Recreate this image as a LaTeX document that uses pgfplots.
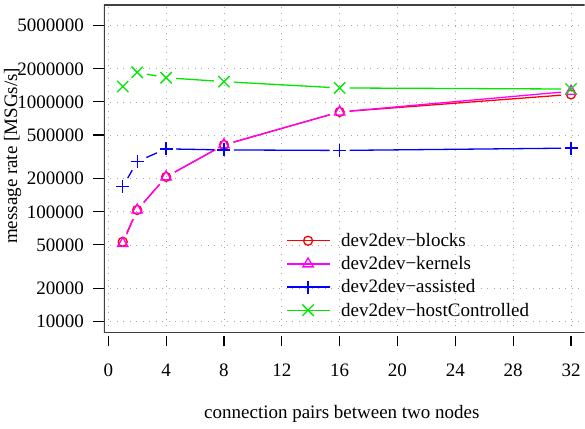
\documentclass[border=0pt]{standalone}
\usepackage{fontspec}
\setmainfont{Liberation Serif}
\usepackage{pgfplots}
\pgfplotsset{compat=1.18}

\definecolor{cred}{RGB}{255,0,0}
\definecolor{cmag}{RGB}{255,0,255}
\definecolor{cblue}{RGB}{0,0,255}
\definecolor{cgreen}{RGB}{0,230,0}

\pgfplotsset{
  seg/.style={forget plot, draw=#1, line width=1.3pt, mark=none, shorten <=10pt, shorten >=10pt},
  pts/.style={draw=#1, color=#1, line width=1.3pt, only marks, mark options={solid, draw=#1, line width=1.3pt}},
}

\begin{document}
\begin{tikzpicture}[font=\fontsize{19}{22}\selectfont]
\path (0,0) rectangle (585pt,429pt);
\begin{axis}[
    at={(104pt,424pt)}, anchor=north west,
    scale only axis,
    width=481pt, height=328pt,
    xmin=-0.3, xmax=32.94,
    ymode=log,
    ymin=7943, ymax=7620000,
    xtick={0,4,8,12,16,20,24,28,32},
    xticklabels={0,4,8,12,16,20,24,28,32},
    ytick={10000,20000,50000,100000,200000,500000,1000000,2000000,5000000},
    yticklabels={10000,20000,50000,100000,200000,500000,1000000,2000000,5000000},
    xtick pos=bottom, ytick pos=left,
    tick align=outside,
    major tick length=10.5pt,
    xtick style={yshift=-3pt, black, line width=1.1pt},
    ytick style={black, line width=1.1pt},
    xticklabel shift=17pt,
    yticklabel shift=6pt,
    axis line style={draw=none},
    grid=major,
    major grid style={draw=gray!70, line width=0.8pt, dash pattern=on 1pt off 5.5pt},
    xlabel={connection pairs between two nodes},
    ylabel={message rate [MSGs/s]},
    every axis x label/.style={at={(axis description cs:0.495,-0.247)}, anchor=center},
    every axis y label/.style={at={(axis description cs:-0.19,0.54)}, anchor=center, rotate=90},
    legend style={draw=none, fill=none, at={(axis description cs:0.372,0.316)}, anchor=north west,
        row sep=4.5pt, nodes={inner sep=2pt}},
    legend cell align=left,
    legend image code/.code={\draw[#1] (0pt,0pt) -- (43pt,0pt);
        \draw[#1] plot coordinates {(21.5pt,0pt)};
        \path (52pt,0pt);},
]
% box without its right side
\draw[black!75, line width=1.3pt] (rel axis cs:1,0) -- (rel axis cs:0,0) -- (rel axis cs:0,1) -- (rel axis cs:1,1);

% line segments, with a gap round each point
% blocks
\addplot[seg=cred] coordinates {(1,53400)(2,104000)};
\addplot[seg=cred] coordinates {(2,104000)(4,208000)};
\addplot[seg=cred] coordinates {(4,208000)(8,406000)};
\addplot[seg=cred] coordinates {(8,406000)(16,811000)};
\addplot[seg=cred] coordinates {(16,811000)(32,1170000)};
% kernels
\addplot[seg=cmag] coordinates {(1,51500)(2,104000)};
\addplot[seg=cmag] coordinates {(2,104000)(4,208000)};
\addplot[seg=cmag] coordinates {(4,208000)(8,408000)};
\addplot[seg=cmag] coordinates {(8,408000)(16,811000)};
\addplot[seg=cmag] coordinates {(16,811000)(32,1250000)};
% assisted
\addplot[seg=cblue] coordinates {(1,169000)(2,287000)};
\addplot[seg=cblue] coordinates {(2,287000)(4,374000)};
\addplot[seg=cblue] coordinates {(4,374000)(8,366000)};
\addplot[seg=cblue] coordinates {(8,366000)(16,362000)};
\addplot[seg=cblue] coordinates {(16,362000)(32,380000)};
% hostControlled
\addplot[seg=cgreen] coordinates {(1,1380000)(2,1860000)};
\addplot[seg=cgreen] coordinates {(2,1860000)(4,1660000)};
\addplot[seg=cgreen] coordinates {(4,1660000)(8,1530000)};
\addplot[seg=cgreen] coordinates {(8,1530000)(16,1340000)};
\addplot[seg=cgreen] coordinates {(16,1340000)(32,1310000)};

% points
\addplot[pts=cred, mark=o, mark size=4.5pt] coordinates {(1,53400)(2,104000)(4,208000)(8,406000)(16,811000)(32,1170000)};
\addlegendentry{dev2dev−blocks}
\addplot[pts=cmag, mark=triangle, mark size=6pt] coordinates {(1,51500)(2,104000)(4,208000)(8,408000)(16,811000)(32,1250000)};
\addlegendentry{dev2dev−kernels}
\addplot[pts=cblue, mark=+, mark size=6.5pt] coordinates {(1,169000)(2,287000)(4,374000)(8,366000)(16,362000)(32,380000)};
\addlegendentry{dev2dev−assisted}
\addplot[pts=cgreen, mark=x, mark size=8pt] coordinates {(1,1380000)(2,1860000)(4,1660000)(8,1530000)(16,1340000)(32,1310000)};
\addlegendentry{dev2dev−hostControlled}
\end{axis}
\end{tikzpicture}
\end{document}
